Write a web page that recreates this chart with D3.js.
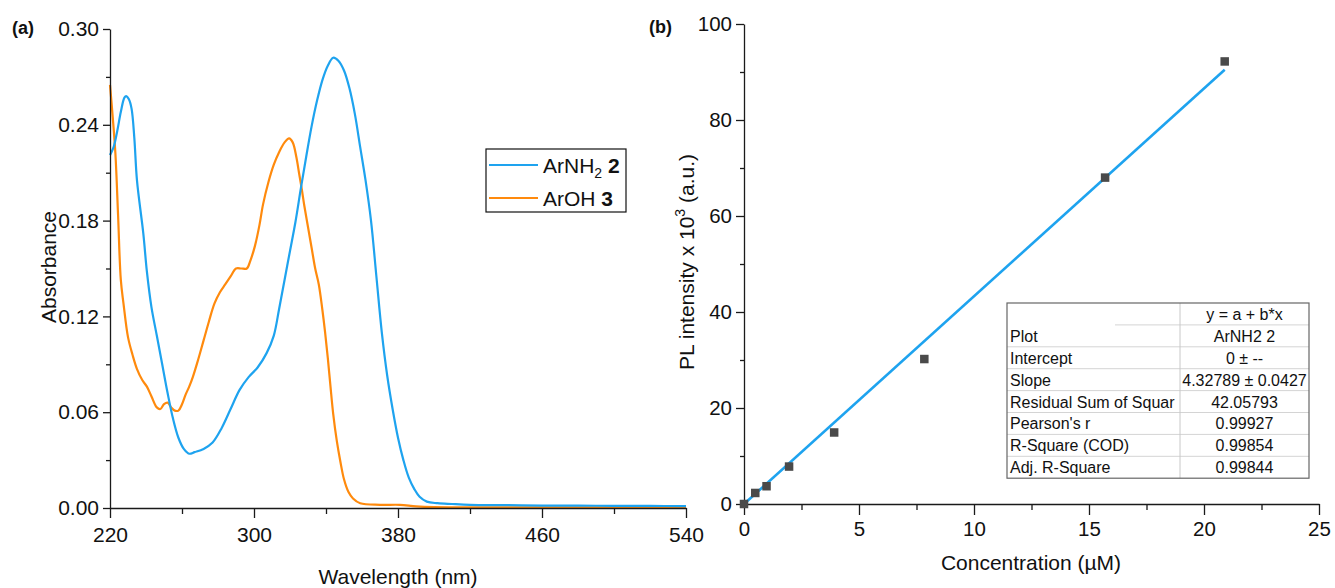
<!DOCTYPE html>
<html>
<head>
<meta charset="utf-8">
<script src="https://cdn.jsdelivr.net/npm/d3@7"></script>
<style>
  body { margin: 0; background: #fff; }
  svg { display: block; font-family: "Liberation Sans", Arial, sans-serif; }
  .axis path, .axis line { stroke: #1a1a1a; stroke-width: 1.3; }
  .axis text { font-size: 21px; fill: #111; }
  .axis-title { font-size: 21px; fill: #111; }
  .panel-label { font-size: 18px; font-weight: bold; fill: #111; }
  .table-text { font-size: 16px; fill: #111; }
</style>
</head>
<body>
<script>
/*
 * Panel (a): UV-vis absorbance spectra.
 */

const wavelengthNH2 = [220, 222, 224, 226, 228, 229, 230.5, 232, 233.5, 235, 238.5, 240.5, 243, 246,
  249, 252, 255, 258, 261, 264, 267, 272, 277, 282, 287, 292, 297, 302, 307, 311, 314, 317, 320,
  323, 326, 329, 332, 335, 338, 341, 344, 347, 350, 353, 356, 359, 362, 365, 368, 371, 374, 377,
  380, 383, 386, 389, 392, 396, 402, 410, 420, 440, 460, 480, 500, 520, 540];
const absorbanceNH2 = [0.221, 0.226, 0.236, 0.248, 0.257, 0.258, 0.256, 0.250, 0.232, 0.205, 0.172,
  0.148, 0.126, 0.108, 0.090, 0.072, 0.056, 0.044, 0.037, 0.034, 0.035, 0.037, 0.041, 0.050, 0.062,
  0.074, 0.082, 0.088, 0.097, 0.108, 0.125, 0.143, 0.161, 0.179, 0.200, 0.220, 0.239, 0.255, 0.268,
  0.277, 0.282, 0.280, 0.274, 0.263, 0.247, 0.226, 0.205, 0.180, 0.145, 0.110, 0.083, 0.062, 0.044,
  0.030, 0.019, 0.012, 0.007, 0.004, 0.003, 0.0025, 0.002, 0.0018, 0.0015, 0.0015, 0.0013, 0.0013,
  0.0012];

const wavelengthOH = [220, 221.5, 223, 224.5, 226, 227.5, 230, 232.5, 235, 238, 240.5, 243, 246, 248,
  250, 252, 254, 256, 258, 260, 262, 264, 266, 269, 272, 275, 278, 281, 284, 287, 290, 293, 296, 298,
  300.5, 303, 305, 308, 311, 314, 317, 319.5, 321.5, 323.5, 325, 326.5, 328, 330, 332, 334, 336, 338,
  339.5, 341, 342.5, 344, 346, 348, 350, 352.5, 355, 359, 370, 381, 390, 400, 420, 460, 500, 540];
const absorbanceOH = [0.265, 0.245, 0.222, 0.183, 0.143, 0.128, 0.107, 0.096, 0.087, 0.080, 0.076,
  0.070, 0.063, 0.062, 0.065, 0.066, 0.063, 0.061, 0.061, 0.065, 0.071, 0.076, 0.082, 0.093, 0.105,
  0.117, 0.128, 0.135, 0.140, 0.145, 0.150, 0.150, 0.150, 0.155, 0.164, 0.177, 0.190, 0.204, 0.215,
  0.223, 0.229, 0.2315, 0.229, 0.220, 0.210, 0.200, 0.189, 0.176, 0.163, 0.150, 0.140, 0.124, 0.110,
  0.094, 0.076, 0.059, 0.042, 0.029, 0.018, 0.010, 0.006, 0.003, 0.002, 0.002, 0.001, 0.0005, 0.0004,
  0.0004, 0.0004, 0.0004];

const wavelengthTicks = [220, 300, 380, 460, 540];
const wavelengthMinor = [260, 340, 420, 500];
const absorbanceTicks = [0, 0.06, 0.12, 0.18, 0.24, 0.30];
const absorbanceMinor = [0.03, 0.09, 0.15, 0.21, 0.27];

/*
 * Panel (b): PL intensity vs concentration with linear fit.
 */

const concentration = [0, 0.49, 0.98, 1.96, 3.92, 7.84, 15.7, 20.9];
const plIntensity = [0, 2.3, 3.7, 7.8, 14.9, 30.2, 68.0, 92.2];
const fitSlope = 4.32789;
const fitIntercept = 0;

const concTicks = [0, 5, 10, 15, 20, 25];
const concMinor = [2.5, 7.5, 12.5, 17.5, 22.5];
const plTicks = [0, 20, 40, 60, 80, 100];
const plMinor = [10, 30, 50, 70, 90];

const tableHeader = 'y = a + b*x';
const tableLabels = ['Plot', 'Intercept', 'Slope', 'Residual Sum of Squar', "Pearson's r",
  'R-Square (COD)', 'Adj. R-Square'];
const tableValues = ['ArNH2 2', '0 \u00b1 --', '4.32789 \u00b1 0.0427', '42.05793', '0.99927',
  '0.99854', '0.99844'];

const BLUE = '#1ea3ef';
const ORANGE = '#ff8a0d';

const svg = d3.select('body')
  .append('svg')
    .attr('width', 1335)
    .attr('height', 588);

/*
 * Draws a bottom and left axis with major and minor ticks.
 */

const drawAxes = (g, x, y, opts) => {
  const [x0] = x.range();
  const [y0] = y.range();

  g.append('g')
      .attr('class', 'axis')
      .attr('transform', `translate(0, ${y0})`)
      .call(d3.axisBottom(x).tickValues(opts.xMinor).tickSize(opts.xMinorLen).tickFormat(''))
      .call(a => a.select('.domain').remove());
  g.append('g')
      .attr('class', 'axis')
      .attr('transform', `translate(0, ${y0})`)
      .call(d3.axisBottom(x).tickValues(opts.xTicks).tickSize(opts.xMajorLen).tickSizeOuter(0)
        .tickPadding(opts.xPad).tickFormat(opts.xFormat));

  g.append('g')
      .attr('class', 'axis')
      .attr('transform', `translate(${x0}, 0)`)
      .call(d3.axisLeft(y).tickValues(opts.yMinor).tickSize(opts.yMinorLen).tickFormat(''))
      .call(a => a.select('.domain').remove());
  g.append('g')
      .attr('class', 'axis')
      .attr('transform', `translate(${x0}, 0)`)
      .call(d3.axisLeft(y).tickValues(opts.yTicks).tickSize(opts.yMajorLen).tickSizeOuter(0)
        .tickPadding(opts.yPad).tickFormat(opts.yFormat));
};

/*
 * Panel (a).
 */

const xA = d3.scaleLinear().domain([220, 540]).range([110, 686]);
const yA = d3.scaleLinear().domain([0, 0.30]).range([508, 29]);

const gA = svg.append('g');

const lineA = d3.line()
    .x(d => xA(d[0]))
    .y(d => yA(d[1]))
    .curve(d3.curveCatmullRom.alpha(0.5));

gA.append('path')
    .datum(d3.zip(wavelengthOH, absorbanceOH))
    .attr('d', lineA)
    .attr('fill', 'none')
    .attr('stroke', ORANGE)
    .attr('stroke-width', 2.2);

gA.append('path')
    .datum(d3.zip(wavelengthNH2, absorbanceNH2))
    .attr('d', lineA)
    .attr('fill', 'none')
    .attr('stroke', BLUE)
    .attr('stroke-width', 2.2);

drawAxes(gA, xA, yA, {
  xTicks: wavelengthTicks, xMinor: wavelengthMinor, xMajorLen: 10, xMinorLen: 6, xPad: 9,
  xFormat: d3.format('d'),
  yTicks: absorbanceTicks, yMinor: absorbanceMinor, yMajorLen: 7, yMinorLen: 4, yPad: 4,
  yFormat: d3.format('.2f')
});

gA.append('text')
    .attr('class', 'axis-title')
    .attr('text-anchor', 'middle')
    .attr('x', 398)
    .attr('y', 584)
    .text('Wavelength (nm)');

gA.append('text')
    .attr('class', 'axis-title')
    .attr('text-anchor', 'middle')
    .attr('transform', 'translate(56, 267) rotate(-90)')
    .text('Absorbance');

gA.append('text')
    .attr('class', 'panel-label')
    .attr('x', 12)
    .attr('y', 34)
    .text('(a)');

// legend
const legend = gA.append('g').attr('transform', 'translate(486, 149)');
legend.append('rect')
    .attr('width', 140)
    .attr('height', 63)
    .attr('fill', '#fff')
    .attr('stroke', '#111')
    .attr('stroke-width', 1.2);

const legendItems = [
  {color: BLUE, name: 'ArNH', sub: '2', bold: '2'},
  {color: ORANGE, name: 'ArOH', sub: null, bold: '3'}
];

legendItems.forEach((item, i) => {
  const ly = 16 + i * 33;
  legend.append('line')
      .attr('x1', 3).attr('x2', 52)
      .attr('y1', ly).attr('y2', ly)
      .attr('stroke', item.color)
      .attr('stroke-width', 2.2);
  const t = legend.append('text')
      .attr('x', 57)
      .attr('y', ly + 8)
      .attr('font-size', 21)
      .attr('fill', '#111');
  t.append('tspan').text(item.name);
  if (item.sub) {
    t.append('tspan').attr('font-size', 14).attr('dy', 5).text(item.sub);
    t.append('tspan').attr('dy', -5).text(' ');
  } else {
    t.append('tspan').text(' ');
  }
  t.append('tspan').attr('font-weight', 'bold').text(item.bold);
});

/*
 * Panel (b).
 */

const xB = d3.scaleLinear().domain([0, 25]).range([744, 1319]);
const yB = d3.scaleLinear().domain([0, 100]).range([504, 24]);

const gB = svg.append('g');

drawAxes(gB, xB, yB, {
  xTicks: concTicks, xMinor: concMinor, xMajorLen: 11, xMinorLen: 6, xPad: 6,
  xFormat: d3.format('d'),
  yTicks: plTicks, yMinor: plMinor, yMajorLen: 8, yMinorLen: 4, yPad: 4,
  yFormat: d3.format('d')
});
gB.selectAll('.axis text').style('font-size', '20.5px');

// fit line over the data range
const fitX = d3.extent(concentration);
gB.append('line')
    .attr('x1', xB(fitX[0]))
    .attr('y1', yB(fitIntercept + fitSlope * fitX[0]))
    .attr('x2', xB(fitX[1]))
    .attr('y2', yB(fitIntercept + fitSlope * fitX[1]))
    .attr('stroke', BLUE)
    .attr('stroke-width', 2.6);

// data markers
const markerSize = 8.5;
gB.selectAll('.marker')
  .data(d3.zip(concentration, plIntensity))
  .enter()
  .append('rect')
    .attr('class', 'marker')
    .attr('x', d => xB(d[0]) - markerSize / 2)
    .attr('y', d => yB(d[1]) - markerSize / 2)
    .attr('width', markerSize)
    .attr('height', markerSize)
    .attr('fill', '#4a4a4a');

gB.append('text')
    .attr('class', 'axis-title')
    .attr('text-anchor', 'middle')
    .attr('x', 1031)
    .attr('y', 570)
    .text('Concentration (\u00b5M)');

const plTitle = gB.append('text')
    .attr('class', 'axis-title')
    .attr('text-anchor', 'middle')
    .attr('transform', 'translate(694, 262) rotate(-90)');
plTitle.append('tspan').text('PL intensity x 10');
plTitle.append('tspan').attr('font-size', 14).attr('dy', -9).text('3');
plTitle.append('tspan').attr('dy', 9).text(' (a.u.)');

gB.append('text')
    .attr('class', 'panel-label')
    .attr('x', 649)
    .attr('y', 33)
    .text('(b)');

// fit statistics table
const tableX = 1007;
const tableY = 303;
const tableW = 302;
const divX = 173;
const rowH = 21.9;
const table = gB.append('g').attr('transform', `translate(${tableX}, ${tableY})`);

table.append('rect')
    .attr('width', tableW)
    .attr('height', rowH * (tableLabels.length + 1))
    .attr('fill', '#fff');

// inner row separators
d3.range(1, tableLabels.length + 1).forEach(i => {
  table.append('line')
      .attr('x1', i === 1 ? 108 : 0)
      .attr('x2', tableW)
      .attr('y1', i * rowH)
      .attr('y2', i * rowH)
      .attr('stroke', '#d4d4d4')
      .attr('stroke-width', 1);
});

table.append('line')
    .attr('x1', divX).attr('x2', divX)
    .attr('y1', 0).attr('y2', rowH * (tableLabels.length + 1))
    .attr('stroke', '#c8c8c8')
    .attr('stroke-width', 1);

table.append('rect')
    .attr('width', tableW)
    .attr('height', rowH * (tableLabels.length + 1))
    .attr('fill', 'none')
    .attr('stroke', '#666')
    .attr('stroke-width', 1.2);

table.append('text')
    .attr('class', 'table-text')
    .attr('text-anchor', 'middle')
    .attr('x', (divX + tableW) / 2)
    .attr('y', rowH - 5)
    .text(tableHeader);

tableLabels.forEach((label, i) => {
  const by = (i + 2) * rowH - 5;
  table.append('text')
      .attr('class', 'table-text')
      .attr('x', 3)
      .attr('y', by)
      .text(label);
  table.append('text')
      .attr('class', 'table-text')
      .attr('text-anchor', 'middle')
      .attr('x', (divX + tableW) / 2)
      .attr('y', by)
      .text(tableValues[i]);
});
</script>
</body>
</html>
